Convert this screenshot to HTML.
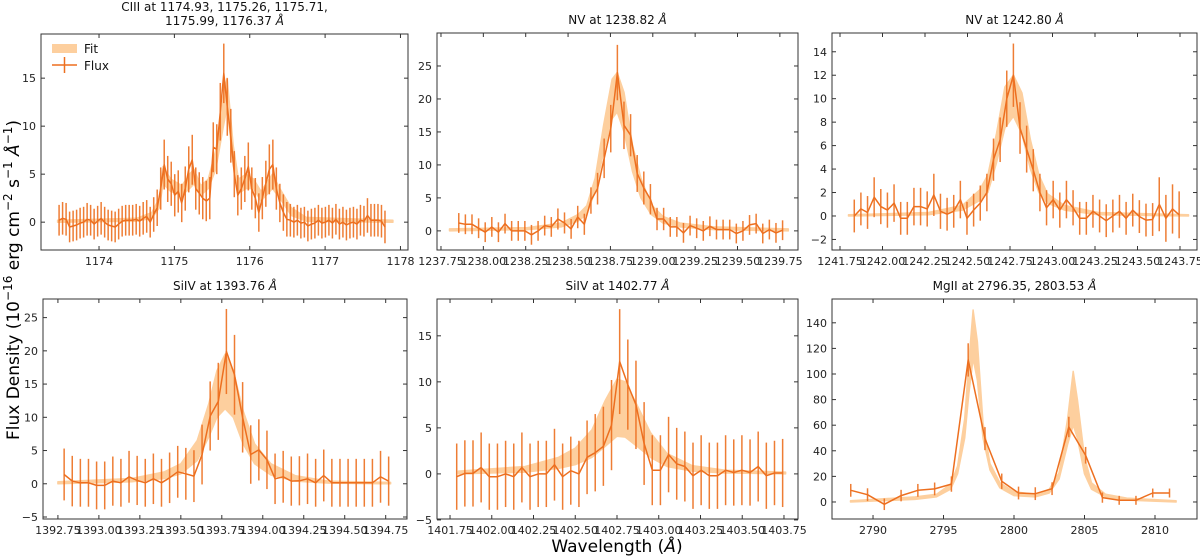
<!DOCTYPE html>
<html><head><meta charset="utf-8">
<style>
html,body{margin:0;padding:0;background:#fff;}
svg{display:block;font-family:"DejaVu Sans","Liberation Sans",sans-serif;}
</style></head>
<body>
<svg id="fig" width="1200" height="559" viewBox="0 0 1200 559" xmlns="http://www.w3.org/2000/svg">
<text transform="translate(19,280) rotate(-90)" text-anchor="middle" font-size="17">Flux Density (10<tspan dy="-7" font-size="12">−16</tspan><tspan dy="7"> erg cm</tspan><tspan dy="-7" font-size="12">−2</tspan><tspan dy="7"> s</tspan><tspan dy="-7" font-size="12">−1</tspan><tspan dy="7"> </tspan><tspan font-style="italic">Å</tspan><tspan dy="-7" font-size="12">−1</tspan><tspan dy="7">)</tspan></text>
<text x="617" y="552" text-anchor="middle" font-size="17">Wavelength (<tspan font-style="italic">Å</tspan>)</text>
</svg>
<script>
// ---- Panel 1: CIII ----
const p1Start = 1173.47, p1Step = 0.0465;
const p1Flux = [0.2,0.4,0.3,-0.5,-0.4,-0.3,-0.1,0.0,0.3,0.2,-0.2,0.1,0.4,0.0,-0.3,-0.4,-0.5,-0.2,0.1,0.2,0.2,0.2,0.3,0.1,0.4,0.6,0.0,0.8,1.5,3.5,6.0,4.5,4.0,2.8,3.2,2.0,3.5,5.5,6.5,3.5,3.0,2.5,2.2,2.5,7.8,7.6,11.5,15.5,12.0,9.0,5.0,2.8,3.5,4.5,5.8,3.5,2.5,1.0,2.5,4.0,5.5,6.0,3.5,2.0,1.0,0.3,0.2,0.0,0.2,-0.1,0.0,-0.4,-0.2,-0.1,0.2,-0.1,0.0,0.2,-0.1,0.3,-0.2,0.0,-0.3,-0.1,0.0,-0.2,0.2,0.1,0.7,0.2,0.2,0.2,0.1,-0.5];
const p1Err = [1.6,1.7,1.7,1.6,1.6,1.6,1.6,1.6,1.7,1.6,1.6,1.6,1.7,1.6,1.6,1.6,1.6,1.6,1.6,1.6,1.6,1.6,1.6,1.6,1.7,1.7,1.6,1.8,1.9,2.2,2.6,2.4,2.3,2.2,2.2,2.0,2.3,2.4,2.6,2.2,2.2,2.2,2.1,2.2,2.6,2.6,3.0,3.1,3.0,2.8,2.4,2.1,2.2,2.4,2.5,2.2,2.1,2.0,2.2,2.4,2.6,2.6,2.2,2.0,1.9,1.8,1.7,1.6,1.6,1.6,1.6,1.6,1.6,1.6,1.6,1.6,1.6,1.6,1.6,1.6,1.6,1.6,1.6,1.6,1.6,1.6,1.6,1.6,1.8,1.7,1.7,1.7,1.7,1.7];
const p1FitWl = [1173.45,1174.5,1174.7,1174.8,1174.85,1174.95,1175.1,1175.2,1175.26,1175.35,1175.45,1175.55,1175.65,1175.7,1175.78,1175.85,1175.95,1176.05,1176.15,1176.3,1176.4,1176.55,1176.75,1177.9];
const p1FitLo = [0,0.1,0.4,1.5,4,3.2,2.8,3.5,4,2.8,3.5,5.5,10,12,6,3,3.5,3.5,2.2,3.5,2.5,0.7,0.1,0];
const p1FitHi = [0.2,0.4,1.0,2.5,5.8,4.5,3.8,5,5.5,3.8,4.5,7.5,13,15,8,4.5,5,4.5,3.2,5,3.5,1.5,0.5,0.2];
const p1XTicks = ["1174","1175","1176","1177","1178"];
const p1YTicks = ["0","5","10","15"];

// ---- Panel 2: NV 1238.82 ----
const p2Start = 1237.855, p2Step = 0.039;
const p2Flux = [1.2,1.0,1.0,0.4,-0.2,0.6,-0.2,1.1,0,0,0,-0.6,0,0.8,0.6,1.8,1.2,0.3,2.1,1.0,4.6,6.4,11,15.5,24,16,14.5,8.7,6.5,4.8,1.8,1.8,0.6,0.6,-0.3,0.8,0.4,0,0.7,0.2,0.2,0.2,-0.4,0,0.9,1.1,-0.4,0.2,-0.3,0.1];
const p2Err = [1.5,1.5,1.5,1.5,1.5,1.5,1.5,1.5,1.5,1.5,1.5,1.5,1.5,1.5,1.5,1.6,1.6,1.5,1.7,1.6,2.0,2.4,3.0,3.6,4.2,3.6,3.2,2.8,2.5,2.3,1.7,1.7,1.5,1.5,1.5,1.5,1.5,1.5,1.5,1.5,1.5,1.5,1.5,1.5,1.5,1.5,1.5,1.5,1.5,1.5];
const p2FitWl = [1237.8,1238.26,1238.46,1238.56,1238.61,1238.66,1238.71,1238.76,1238.79,1238.83,1238.88,1238.93,1238.99,1239.06,1239.16,1239.36,1239.8];
const p2FitLo = [0,0.2,0.6,1.5,2.5,6,12,17,18,15,9,5,2.5,1.2,0.6,0.2,0];
const p2FitHi = [0.3,0.5,1.2,2.5,3.8,8,16,23,24,21,13,8,4,2.2,1.2,0.6,0.3];
const p2XTicks = ["1237.75","1238.00","1238.25","1238.50","1238.75","1239.00","1239.25","1239.50","1239.75"];
const p2YTicks = ["0","5","10","15","20","25"];

// ---- Panel 3: NV 1242.80 ----
const p3Start = 1241.834, p3Step = 0.039;
const p3Flux = [0,0.6,0.3,1.6,0.8,0.5,1.1,-0.2,-0.2,0.8,0.8,0.6,1.8,0.4,0.15,0.4,1.4,-0.2,0.5,1.1,2.0,4.8,6.5,10,12,7.5,5.7,3.9,2.0,0.7,1.4,0.5,1.4,0.7,-0.2,-0.2,0.4,0,-0.4,0,0.4,-0.2,0.5,-0.05,-0.35,-0.3,1.0,-0.2,0.6,0.1];
const p3Err = [1.4,1.4,1.4,1.7,1.5,1.5,1.6,1.4,1.4,1.6,1.6,1.5,1.8,1.5,1.4,1.4,1.6,1.4,1.4,1.5,1.6,1.8,1.9,2.4,2.7,2.2,2.0,1.8,1.6,1.5,1.6,1.5,1.6,1.5,1.4,1.4,1.4,1.4,1.4,1.4,1.4,1.4,1.4,1.4,1.4,1.4,2.3,2.0,2.1,2.0];
const p3FitWl = [1241.8,1242.27,1242.47,1242.57,1242.62,1242.67,1242.72,1242.77,1242.82,1242.87,1242.92,1242.97,1243.07,1243.27,1243.8];
const p3FitLo = [0,0.1,0.5,1.3,2,4.5,7.5,8.5,7,4,2,1.1,0.5,0.1,0];
const p3FitHi = [0.1,0.3,0.9,2.2,3.5,7,11,12,10.5,6.5,3.5,1.9,0.9,0.3,0.1];
const p3XTicks = ["1241.75","1242.00","1242.25","1242.50","1242.75","1243.00","1243.25","1243.50","1243.75"];
const p3YTicks = ["−2","0","2","4","6","8","10","12","14"];

// ---- Panel 4: SiIV 1393.76 ----
const p4Start = 1392.788, p4Step = 0.0495;
const p4Flux = [1.4,0.4,0.15,0.15,-0.25,-0.25,0.4,0.15,1.05,0.5,0.15,0.75,0.15,0.9,1.8,1.5,1.15,4.4,10.2,12.4,19.9,16.4,10,4.4,5.1,3.6,0.75,1.05,0.4,0.45,0.75,0.15,1.25,0.15,0.15,0.15,0.15,0.15,0.15,1.05,0.4];
const p4Err = [3.9,3.8,3.6,3.6,3.6,3.6,3.7,3.6,3.9,3.7,3.6,3.8,3.6,3.8,3.9,3.9,3.9,4.5,5.2,5.8,6.4,6.0,5.3,4.4,4.6,4.4,3.8,3.9,3.7,3.7,3.8,3.6,3.9,3.6,3.6,3.6,3.6,3.6,3.6,3.9,3.7];
const p4FitWl = [1392.75,1393.2,1393.4,1393.5,1393.6,1393.67,1393.72,1393.77,1393.82,1393.88,1393.95,1394.05,1394.2,1394.4,1394.78];
const p4FitLo = [0,0.3,0.8,1.5,3.5,7,10,11.3,10,6,3,1.3,0.4,0.1,0];
const p4FitHi = [0.3,0.8,1.8,3,6.5,12,17,19.5,17,11,6,3,1.2,0.4,0.2];
const p4XTicks = ["1392.75","1393.00","1393.25","1393.50","1393.75","1394.00","1394.25","1394.50","1394.75"];
const p4YTicks = ["−5","0","5","10","15","20","25"];

// ---- Panel 5: SiIV 1402.77 ----
const p5Start = 1401.79, p5Step = 0.0488;
const p5Flux = [-0.3,0.05,0.05,0.7,-0.3,-0.3,0,-0.3,0.7,-0.3,0,0,1.0,-0.3,0.35,0,1.8,2.3,3.0,5.3,12.2,9.7,7.5,3.3,0.4,0.4,2.1,1.1,0.8,-0.2,0.4,-0.2,-0.2,0.4,0.15,0.4,0.15,0.8,-0.2,0.1,0.1];
const p5Err = [3.6,3.6,3.6,3.8,3.6,3.6,3.6,3.6,3.8,3.6,3.6,3.6,3.9,3.6,3.7,3.6,4.0,4.2,4.3,4.9,5.7,4.9,4.8,4.5,3.8,3.8,4.1,3.9,3.8,3.6,3.8,3.6,3.6,3.8,3.6,3.8,3.6,3.8,3.6,3.5,3.7];
const p5FitWl = [1401.8,1402.2,1402.4,1402.5,1402.6,1402.68,1402.75,1402.8,1402.87,1402.95,1403.05,1403.2,1403.4,1403.76];
const p5FitLo = [0,0.2,0.6,1,1.8,3,4.1,4,3,1.8,0.8,0.3,0.1,0];
const p5FitHi = [0.3,0.8,1.8,2.8,4.8,8,10.3,10,7.5,4.5,2.2,0.9,0.4,0.2];
const p5XTicks = ["1401.75","1402.00","1402.25","1402.50","1402.75","1403.00","1403.25","1403.50","1403.75"];
const p5YTicks = ["−5","0","5","10","15"];

// ---- Panel 6: MgII ----
const p6Start = 2788.42, p6Step = 1.19;
const p6Flux = [9.1,5.7,-1.8,5,9.1,10.2,14,111,49.5,16.2,7,6.5,10.4,58.6,36.5,3.4,1.3,1.3,7,7];
const p6Err = [5,5,4.5,4.5,5,5,6,13,9,6,5,5,5,8,6.5,4,3.5,3.5,3.5,3.5];
const p6FitWl = [2788.4,2793,2794.5,2795.5,2796.0,2796.5,2796.8,2797.1,2797.4,2797.8,2798.3,2799,2800,2801.5,2802.5,2803.2,2803.8,2804.2,2804.5,2805,2805.5,2806.5,2808,2811.5];
const p6FitLo = [0,2,4,10,22,50,85,112,95,50,25,11,5,4,7,18,45,60,50,22,10,4,1.5,0];
const p6FitHi = [1,4,6,14,28,65,110,150,125,62,30,15,8,6,10,23,65,102,80,35,15,6,3,1];
const p6XTicks = ["2790","2795","2800","2805","2810"];
const p6YTicks = ["0","20","40","60","80","100","120","140"];

const NS = "http://www.w3.org/2000/svg";
const svg = document.getElementById('fig');
const LINE = '#ed6f1f', FILL = '#fdcf9e';

function mk(tag, attrs, parent){
  const e = document.createElementNS(NS, tag);
  for (const k in attrs) e.setAttribute(k, attrs[k]);
  (parent || svg).appendChild(e);
  return e;
}

const panels = [
  {id:'ciii', box:[41,34,408,250], x0:1173.23, x1:1178.1, y0:-2.9, y1:19.6, start:p1Start, step:p1Step, flux:p1Flux, err:p1Err, fw:p1FitWl, flo:p1FitLo, fhi:p1FitHi, xt:p1XTicks, yt:p1YTicks,
   title:['CIII at 1174.93, 1175.26, 1175.71,','1175.99, 1176.37 '], legend:true},
  {id:'nv1', box:[437,33,798,250], x0:1237.7265, x1:1239.857, y0:-2.9, y1:30, start:p2Start, step:p2Step, flux:p2Flux, err:p2Err, fw:p2FitWl, flo:p2FitLo, fhi:p2FitHi, xt:p2XTicks, yt:p2YTicks, title:['NV at 1238.82 ']},
  {id:'nv2', box:[832,33,1197,250], x0:1241.703, x1:1243.85, y0:-2.9, y1:15.6, start:p3Start, step:p3Step, flux:p3Flux, err:p3Err, fw:p3FitWl, flo:p3FitLo, fhi:p3FitHi, xt:p3XTicks, yt:p3YTicks, title:['NV at 1242.80 ']},
  {id:'siiv1', box:[43,299,407,519], x0:1392.659, x1:1394.88, y0:-5.3, y1:27.8, start:p4Start, step:p4Step, flux:p4Flux, err:p4Err, fw:p4FitWl, flo:p4FitLo, fhi:p4FitHi, xt:p4XTicks, yt:p4YTicks, title:['SiIV at 1393.76 ']},
  {id:'siiv2', box:[437,299,798,519], x0:1401.672, x1:1403.834, y0:-4.9, y1:19, start:p5Start, step:p5Step, flux:p5Flux, err:p5Err, fw:p5FitWl, flo:p5FitLo, fhi:p5FitHi, xt:p5XTicks, yt:p5YTicks, title:['SiIV at 1402.77 ']},
  {id:'mgii', box:[832,299,1197,519], x0:2787.09, x1:2812.98, y0:-13.3, y1:158.6, start:p6Start, step:p6Step, flux:p6Flux, err:p6Err, fw:p6FitWl, flo:p6FitLo, fhi:p6FitHi, xt:p6XTicks, yt:p6YTicks, title:['MgII at 2796.35, 2803.53 ']}
];

panels.forEach(p => {
  const [L,T,R,B] = p.box;
  const sx = v => L + (v - p.x0) / (p.x1 - p.x0) * (R - L);
  const sy = v => B - (v - p.y0) / (p.y1 - p.y0) * (B - T);
  const g = mk('g', {});
  
  
  const cid = 'clip-' + p.id;
  const cp = mk('clipPath', {id: cid}, g);
  mk('rect', {x:L, y:T, width:R-L, height:B-T}, cp);
  const plot = mk('g', {'clip-path':'url(#'+cid+')'}, g);

  let d = '';
  p.fw.forEach((w,i) => { d += (i ? 'L' : 'M') + sx(w).toFixed(1) + ',' + sy(p.fhi[i]).toFixed(1); });
  for (let i = p.fw.length - 1; i >= 0; i--) d += 'L' + sx(p.fw[i]).toFixed(1) + ',' + sy(p.flo[i]).toFixed(1);
  const band = mk('path', {d: d + 'Z', fill: FILL, stroke: FILL, 'stroke-width': 1.5, 'stroke-linejoin':'round'}, plot);
  
  

  p.flux.forEach((f,i) => {
    const w = p.start + i * p.step;
    const eb = mk('line', {x1: sx(w), x2: sx(w), y1: sy(f - p.err[i]), y2: sy(f + p.err[i]), stroke: LINE, 'stroke-width': 1.5, opacity: 0.9}, plot);
    
    
  });
  const pts = p.flux.map((f,i) => sx(p.start + i * p.step).toFixed(1) + ',' + sy(f).toFixed(1)).join(' ');
  const fl = mk('polyline', {points: pts, fill: 'none', stroke: LINE, 'stroke-width': 1.5, 'stroke-linejoin': 'round'}, plot);
  
  

  const fr = mk('rect', {x:L, y:T, width:R-L, height:B-T, fill:'none', stroke:'#333', 'stroke-width':1}, g);
  
  

  p.xt.forEach(t => {
    const v = parseFloat(t.replace('−','-'));
    const x = sx(v);
    mk('line', {x1:x, x2:x, y1:B, y2:B-4, stroke:'#333', 'stroke-width':1}, g);
    mk('line', {x1:x, x2:x, y1:T, y2:T+4, stroke:'#333', 'stroke-width':1}, g);
    const tx = mk('text', {x:x, y:B+15, 'text-anchor':'middle', 'font-size':11, fill:'#222'}, g);
    tx.textContent = t;
    
    
  });
  p.yt.forEach(t => {
    const v = parseFloat(t.replace('−','-'));
    const y = sy(v);
    mk('line', {x1:L, x2:L+4, y1:y, y2:y, stroke:'#333', 'stroke-width':1}, g);
    mk('line', {x1:R, x2:R-4, y1:y, y2:y, stroke:'#333', 'stroke-width':1}, g);
    const ty = mk('text', {x:L-5, y:y+4, 'text-anchor':'end', 'font-size':11, fill:'#222'}, g);
    ty.textContent = t;
    
    
  });
  const cx = (L + R) / 2;
  const n = p.title.length;
  p.title.forEach((line, i) => {
    const ty = T - 9 - (n - 1 - i) * 14;
    const tt = mk('text', {x:cx, y:ty, 'text-anchor':'middle', 'font-size':12, fill:'#111'}, g);
    
    
    tt.appendChild(document.createTextNode(line));
    if (i === n - 1) {
      const ts = mk('tspan', {'font-style':'italic'}, tt);
      ts.textContent = 'Å';
    }
  });

  if (p.legend) {
    const lg = mk('g', {}, g);
    
    
    mk('rect', {x:52, y:44, width:25, height:9, fill:FILL}, lg);
    const t1 = mk('text', {x:84, y:53, 'font-size':12, fill:'#111'}, lg);
    t1.textContent = 'Fit';
    
    
    mk('line', {x1:52, x2:77, y1:65, y2:65, stroke:LINE, 'stroke-width':1.5}, lg);
    mk('line', {x1:64.5, x2:64.5, y1:57, y2:73, stroke:LINE, 'stroke-width':1.5}, lg);
    const t2 = mk('text', {x:84, y:70, 'font-size':12, fill:'#111'}, lg);
    t2.textContent = 'Flux';
    
    
  }
});
</script>
</body></html>
